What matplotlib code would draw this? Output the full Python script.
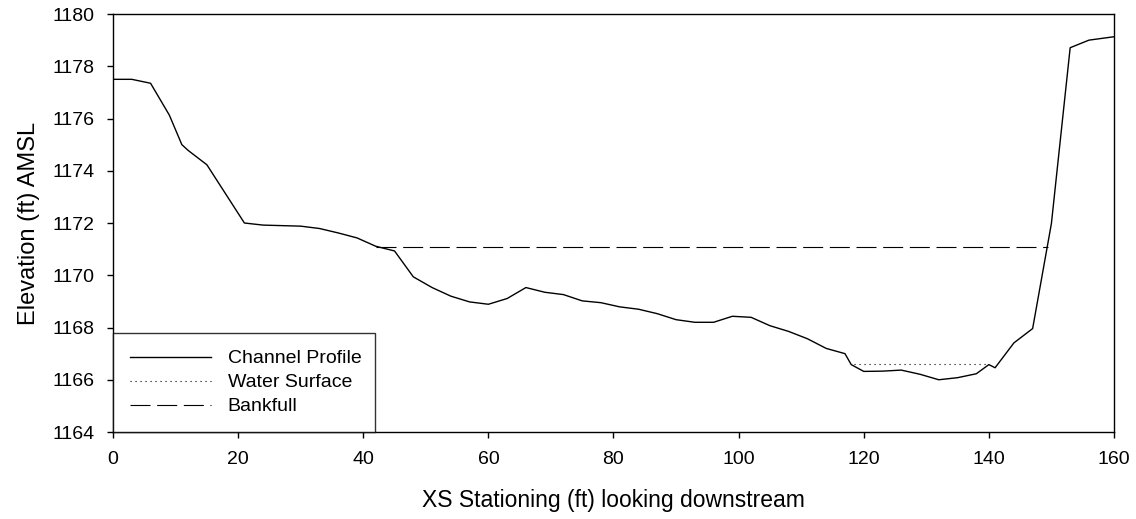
import numpy as np
import matplotlib.pyplot as plt

plt.rcParams['font.family'] = ['Liberation Sans', 'DejaVu Sans']

# cross section survey (ft)
station = [0, 3, 6, 9, 11, 12, 15, 21, 24, 30, 33, 36, 39, 42, 45, 48, 51, 54, 57, 60,
           63, 66, 69, 72, 75, 78, 81, 84, 87, 90, 93, 96, 99, 102, 105, 108, 111, 114, 117, 118,
           120, 123, 126, 129, 132, 135, 138, 140, 141, 144, 147, 150, 153, 156, 160]
elev = [1177.5, 1177.5, 1177.35, 1176.13, 1175.0, 1174.78, 1174.23,
        1172.0, 1171.92, 1171.88, 1171.79, 1171.62, 1171.43, 1171.11, 1170.93, 1169.94, 1169.53, 1169.20, 1168.98, 1168.89,
        1169.11, 1169.53, 1169.35, 1169.26, 1169.02, 1168.95, 1168.79, 1168.70, 1168.53, 1168.30,
        1168.20, 1168.20, 1168.43, 1168.39, 1168.07, 1167.85, 1167.57, 1167.20, 1167.0, 1166.58,
        1166.32, 1166.33, 1166.37, 1166.21, 1166.0, 1166.08, 1166.23, 1166.58, 1166.46, 1167.41,
        1167.96, 1171.98, 1178.71, 1179.0, 1179.13]

ws_x = [118.5, 140]
ws_y = [1166.6, 1166.6]
bkf_x = [42, 149.4]
bkf_y = [1171.1, 1171.1]

xticks = np.arange(0, 161, 20)
yticks = np.arange(1164, 1181, 2)

fig = plt.figure(figsize=(11.36, 5.19), dpi=100)
ax = fig.add_axes([0.0995, 0.1676, 0.8811, 0.8054])

ax.plot(station, elev, color='black', lw=1.0, label='Channel Profile')
ax.plot(ws_x, ws_y, color='black', lw=0.8, linestyle=(0, (1, 3.5)), label='Water Surface')
ax.plot(bkf_x, bkf_y, color='black', lw=0.8, linestyle=(0, (18, 6)), label='Bankfull')

ax.set_xlim(0, 160)
ax.set_ylim(1164, 1180)
ax.set_xticks(xticks)
ax.set_yticks(yticks)
ax.tick_params(direction='out', length=4.5, width=1, labelsize=14)
ax.tick_params(axis='x', pad=9)
ax.tick_params(axis='y', pad=9)
for s in ax.spines.values():
    s.set_linewidth(1)
    s.set_color('black')

ax.set_xlabel('XS Stationing (ft) looking downstream', fontsize=16.5, labelpad=15)
ax.set_ylabel('Elevation (ft) AMSL', fontsize=17, labelpad=9)

leg = ax.legend(loc='lower left', bbox_to_anchor=(0, 0, 0.2617, 0.24), mode='expand',
                borderaxespad=0, fancybox=False, fontsize=14, handlelength=4.2,
                handletextpad=0.85, labelspacing=0.33, borderpad=0.85)
leg.get_frame().set_edgecolor('black')
leg.get_frame().set_linewidth(1)

fig.savefig('out.png', dpi=100)
